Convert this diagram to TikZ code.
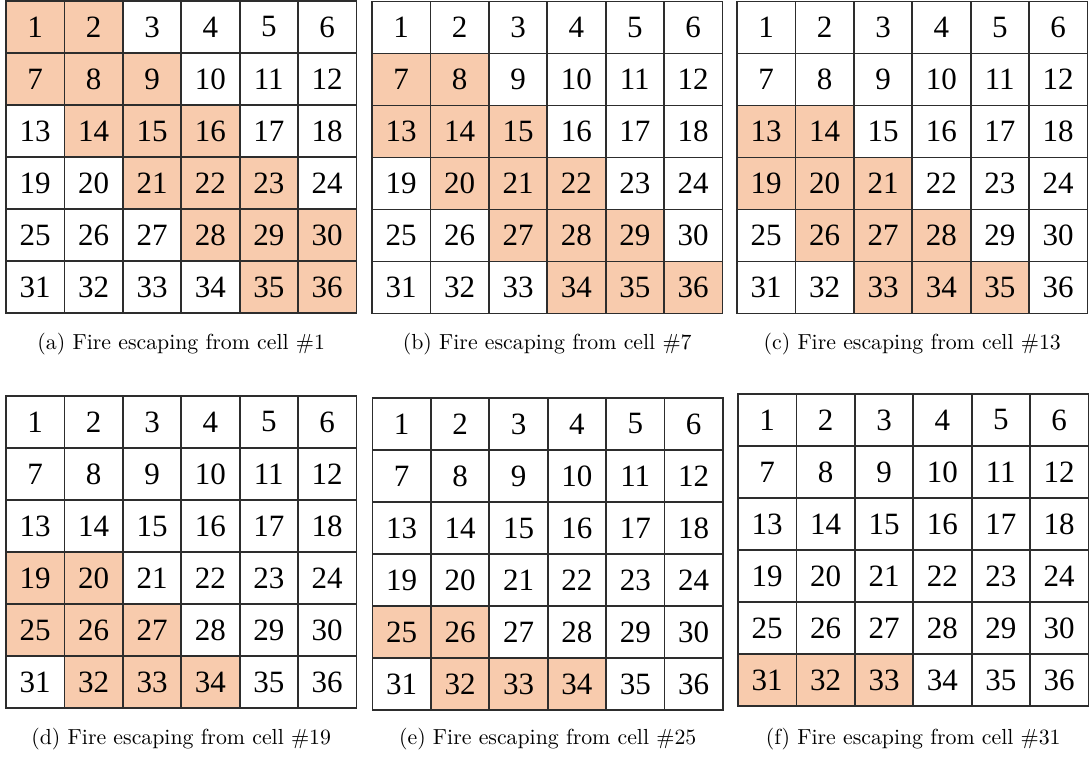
\documentclass[tikz,border=0pt]{standalone}
\usepackage{fontspec}
\newfontfamily\chiffres{Liberation Serif}
\usepackage{xcolor}
\definecolor{feu}{RGB}{248,203,173}
\definecolor{trait}{RGB}{45,45,45}
\usepackage{tikz}
\usetikzlibrary{positioning}

\tikzset{
  cellule/.style={draw=trait, line width=0.9pt, minimum width=29.2pt,
    minimum height=26pt, inner sep=0pt,
    font=\chiffres\fontsize{15.5}{16}\selectfont},
  legende/.style={inner sep=0pt, font=\fontsize{10.9}{13}\selectfont}
}

% Grille 6x6 : #1 nom, #2 bord gauche, #3 bord haut, #4 cases en feu,
% #5 hauteur de la légende, #6 légende
\newcommand{\grille}[6]{%
  \foreach \f in {#4} {
    \pgfmathtruncatemacro{\col}{mod(\f-1,6)}
    \pgfmathtruncatemacro{\lig}{int((\f-1)/6)}
    \fill[feu] (#2+\col*58.4, #3+\lig*52) rectangle ++(58.4,52);
  }
  \foreach \k in {1,...,36} {
    \pgfmathtruncatemacro{\col}{mod(\k-1,6)}
    \pgfmathtruncatemacro{\lig}{int((\k-1)/6)}
    \node[cellule] (#1-\k) at (#2+29.2+\col*58.4, #3+26+\lig*52) {\k};
  }
  \node[legende] (#1-leg) at (#2+175.2, #5) {#6};
}

\begin{document}
\begin{tikzpicture}[x=0.5pt, y=-0.5pt]
  % Cadre de la figure
  \useasboundingbox (0,0) rectangle (1091,758);

  % Première rangée
  \grille{a}{6}{1}{1,2,7,8,9,14,15,16,21,22,23,28,29,30,35,36}{344}
    {(a) Fire escaping from cell \#1}
  \grille{b}{372}{1.5}{7,8,13,14,15,20,21,22,27,28,29,34,35,36}{344}
    {(b) Fire escaping from cell \#7}
  \grille{c}{737}{1.5}{13,14,19,20,21,26,27,28,33,34,35}{344}
    {(c) Fire escaping from cell \#13}

  % Deuxième rangée
  \grille{d}{6}{396}{19,20,25,26,27,32,33,34}{739}
    {(d) Fire escaping from cell \#19}
  \grille{e}{372.5}{398}{25,26,32,33,34}{739}
    {(e) Fire escaping from cell \#25}
  \grille{f}{738}{394}{31,32,33}{739}
    {(f) Fire escaping from cell \#31}
\end{tikzpicture}
\end{document}
